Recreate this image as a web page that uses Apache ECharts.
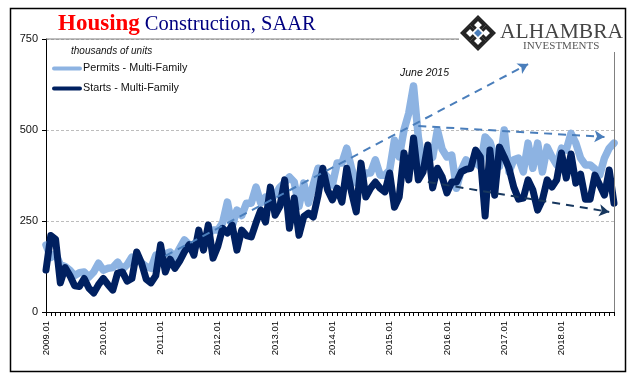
<!DOCTYPE html>
<html><head><meta charset="utf-8">
<style>html,body{margin:0;padding:0;background:#fff}#c{width:641px;height:381px}</style>
<script src="https://cdn.jsdelivr.net/npm/echarts@6/dist/echarts.min.js"></script>
</head><body><div id="c"></div>
<script>
const years = [2009,2010,2011,2012,2013,2014,2015,2016,2017,2018];
const months = ['01','02','03','04','05','06','07','08','09','10','11','12'];
const categories = years.flatMap(y => months.map(m => y + '.' + m));
const permits = [184,150,160,130,125,115,100,108,110,96,110,134,115,120,122,137,117,130,151,145,135,125,120,156,150,160,165,150,175,198,185,175,190,205,215,225,225,245,302,235,280,265,299,299,343,299,316,316,321,343,355,371,357,290,354,299,350,395,385,370,349,409,409,450,395,354,360,382,382,418,376,376,390,472,426,500,546,621,481,398,435,425,500,447,426,431,340,390,418,405,410,400,481,467,426,400,500,385,418,423,385,464,395,464,385,453,426,404,450,445,491,464,423,404,404,393,376,423,450,464];
const starts = [115,210,200,80,122,100,72,70,92,65,52,75,92,75,60,107,110,85,92,165,135,90,80,100,185,110,145,120,140,165,185,156,225,170,239,148,180,230,217,239,170,225,210,206,245,280,247,343,266,290,363,230,313,211,262,272,261,320,395,335,308,340,302,395,330,275,409,316,340,357,340,330,382,288,316,437,363,478,363,385,459,341,395,371,327,357,357,385,392,395,445,426,264,445,321,453,426,395,343,310,313,363,335,280,308,363,343,363,437,368,434,354,379,310,310,376,349,321,390,299];
const yTicks = [0,250,500,750];
const trendUp = [[25,154],[101,681]];
const trendFlat = [[78,511],[117,481]];
const trendDown = [[80,357],[118,275]];

const LIGHT='#8db3e2', DARK='#002060', DASH='#4a7ebb', DASH2='#17375e';
const SANS='"Liberation Sans",Arial,sans-serif', SERIF='"Liberation Serif",serif';
const chart = echarts.init(document.getElementById('c'),null,{renderer:'canvas'});
const mkLine=(pts,color)=>({silent:true,symbol:['none','arrow'],symbolSize:[9,10],label:{show:false},
  lineStyle:{color,width:2,type:[8,6],opacity:1},animation:false,
  data:[[{coord:[pts[0][0],pts[0][1]]},{coord:[pts[1][0],pts[1][1]]}]]});
const D=(cx,cy,r)=>[[cx,cy-r],[cx+r,cy],[cx,cy+r],[cx-r,cy]];
const cx=478,cy=33;
const logo=[
 {type:'rect',shape:{x:459,y:10,width:165,height:42},style:{fill:'#fff'},z:50},
 {type:'polygon',shape:{points:D(cx,cy,18)},style:{fill:'#222'},z:51},
 {type:'polygon',shape:{points:D(cx,cy,15.5)},style:{fill:'#fff'},z:52},
 {type:'polygon',shape:{points:D(cx,cy-8,6)},style:{fill:'none',stroke:'#222',lineWidth:3},z:53},
 {type:'polygon',shape:{points:D(cx,cy+8,6)},style:{fill:'none',stroke:'#222',lineWidth:3},z:53},
 {type:'polygon',shape:{points:D(cx-8,cy,6)},style:{fill:'none',stroke:'#222',lineWidth:3},z:53},
 {type:'polygon',shape:{points:D(cx+8,cy,6)},style:{fill:'none',stroke:'#222',lineWidth:3},z:53},
 {type:'polygon',shape:{points:D(cx,cy,6.5)},style:{fill:'#fff'},z:54},
 {type:'polygon',shape:{points:D(cx,cy,4)},style:{fill:'#4a7ebb'},z:55},
 {type:'text',style:{x:500,y:32,text:'ALHAMBRA',font:'21.5px '+SERIF,fill:'#444',textVerticalAlign:'middle'},z:55},
 {type:'text',style:{x:523,y:46,text:'INVESTMENTS',font:'11px '+SERIF,fill:'#555',textVerticalAlign:'middle'},z:55}
];
chart.setOption({
 animation:false,backgroundColor:'#fff',
 title:{left:58,top:13,padding:0,text:'{a|Housing} {b|Construction, SAAR}',
   textStyle:{fontWeight:'normal',rich:{a:{fontFamily:SERIF,fontWeight:'bold',fontSize:23,color:'#ff0000'},b:{fontFamily:SERIF,fontWeight:'normal',fontSize:20.5,color:'#000080'}}}},
 legend:{left:52,top:63,orient:'vertical',itemWidth:30,itemHeight:10,itemGap:9,padding:0,
   textStyle:{fontFamily:SANS,fontSize:10.8,color:'#111',padding:[0,0,0,-4]},
   data:[{name:'Permits - Multi-Family',icon:'path://M2 0H28A2 2 0 0 1 28 4H2A2 2 0 0 1 2 0Z'},{name:'Starts - Multi-Family',icon:'path://M2 0H28A2 2 0 0 1 28 4H2A2 2 0 0 1 2 0Z'}]},
 grid:{left:46,right:27,top:39,bottom:69},
 xAxis:{type:'category',data:categories,boundaryGap:false,
   axisLine:{lineStyle:{color:'#000',width:1}},
   axisTick:{interval:0,length:4,lineStyle:{color:'#000'}},
   axisLabel:{interval:11,rotate:90,margin:9,fontFamily:SANS,fontSize:9.5,color:'#000',padding:[5,0,0,0]},splitLine:{show:false}},
 yAxis:{type:'value',min:0,max:750,interval:250,
   axisLine:{show:true,lineStyle:{color:'#000'}},axisTick:{show:true,length:4,lineStyle:{color:'#000'}},
   axisLabel:{margin:8,fontFamily:SANS,fontSize:11,color:'#111',customValues:yTicks},
   splitLine:{show:true,lineStyle:{color:'#bdbdbd',type:[3,2],width:1}}},
 graphic:[
  {type:'line',shape:{x1:46,y1:39,x2:614,y2:39},style:{stroke:'#808080',lineWidth:1},z:10},
  {type:'line',shape:{x1:614.5,y1:39,x2:614.5,y2:312},style:{stroke:'#808080',lineWidth:1},z:10},
  {type:'rect',shape:{x:10.5,y:8.5,width:615,height:363},style:{fill:'none',stroke:'#000',lineWidth:1.5},z:60},
  {type:'text',style:{x:71,y:51,text:'thousands of units',font:'italic 10px '+SANS,fill:'#111',textVerticalAlign:'middle'},z:20},
  {type:'text',style:{x:400,y:73,text:'June 2015',font:'italic 10.5px '+SANS,fill:'#111',textVerticalAlign:'middle'},z:20},
  ...logo
 ],
 series:[
  {name:'Permits - Multi-Family',type:'line',data:permits,symbol:'none',z:2,
   lineStyle:{color:LIGHT,width:7.5,join:'round',cap:'round'},itemStyle:{color:LIGHT},
   markLine:mkLine(trendUp,DASH)},
  {name:'Flat trend',type:'line',data:[],symbol:'none',z:3,markLine:mkLine(trendFlat,DASH)},
  {name:'Down trend',type:'line',data:[],symbol:'none',z:3,markLine:mkLine(trendDown,DASH2)},
  {name:'Starts - Multi-Family',type:'line',data:starts,symbol:'none',z:4,
   lineStyle:{color:DARK,width:7,join:'round',cap:'round'},itemStyle:{color:DARK}}
 ]
});
</script></body></html>
